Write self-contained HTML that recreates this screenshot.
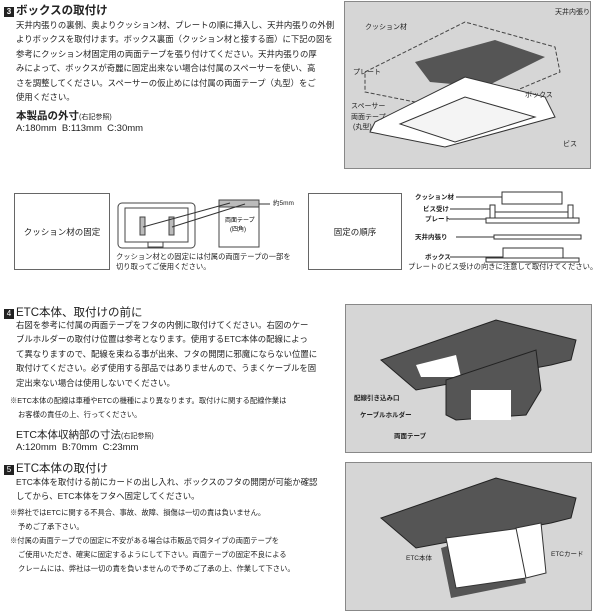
<!DOCTYPE html>
<html><head><meta charset="utf-8"><style>
body{margin:0;width:600px;height:616px;background:#fff;position:relative;overflow:hidden;font-family:"Liberation Sans","Noto Sans CJK JP",sans-serif;color:#222}
.t{position:absolute;white-space:nowrap;font-size:8.4px;line-height:10px}
.h{position:absolute;white-space:nowrap;font-size:11.5px;font-weight:bold;line-height:13px}
.h2{position:absolute;white-space:nowrap;font-size:10.5px;line-height:12px}
.n{position:absolute;white-space:nowrap;font-size:7.3px;line-height:9px}
.num{display:inline-block;width:10px;height:10px;background:#222;color:#fff;font-size:8px;text-align:center;line-height:10px;margin-right:2px;vertical-align:0}
.box{position:absolute;border:1px solid #666;font-size:8.5px;display:flex;align-items:center;justify-content:center}
.panel{position:absolute;background:#d6d6d6;border:1px solid #888}
.s{font-size:7px;font-weight:normal}
</style></head><body>
<div class="h" style="left:4px;top:5px"><span class="num">3</span>ボックスの取付け</div>
<div class="t" style="left:16px;top:20px">天井内張りの裏側、奥よりクッション材、プレートの順に挿入し、天井内張りの外側</div>
<div class="t" style="left:16px;top:34px">よりボックスを取付けます。ボックス裏面（クッション材と接する面）に下記の図を</div>
<div class="t" style="left:16px;top:49px">参考にクッション材固定用の両面テープを張り付けてください。天井内張りの厚</div>
<div class="t" style="left:16px;top:63px">みによって、ボックスが奇麗に固定出来ない場合は付属のスペーサーを使い、高</div>
<div class="t" style="left:16px;top:78px">さを調整してください。スペーサーの仮止めには付属の両面テープ（丸型）をご</div>
<div class="t" style="left:16px;top:92px">使用ください。</div>
<div class="h2" style="left:16px;top:110px;font-weight:bold">本製品の外寸<span class="s">(右記参照)</span></div>
<div class="h2" style="left:16px;top:123px;font-weight:normal;font-size:9.5px">A:180mm&nbsp; B:113mm&nbsp; C:30mm</div>

<div class="panel" style="left:344px;top:1px;width:245px;height:166px">
<svg width="245" height="166" style="position:absolute;left:0;top:0">
<polygon points="20,70 120,20 210,45 215,70 120,110 20,90" fill="none" stroke="#444" stroke-dasharray="4,2"/>
<polygon points="70,60 150,38 200,55 140,85 85,80" fill="#555"/>
<polygon points="30,120 120,75 200,95 210,115 100,145 25,130" fill="#fff" stroke="#333"/>
<polygon points="55,122 120,95 190,115 110,140" fill="#f4f4f4" stroke="#333"/>
<text x="210" y="12" font-size="7" fill="#222" font-family="Liberation Sans,Noto Sans CJK JP">天井内張り</text>
<text x="20" y="27" font-size="7" fill="#222" font-family="Liberation Sans,Noto Sans CJK JP">クッション材</text>
<text x="8" y="72" font-size="7" fill="#222" font-family="Liberation Sans,Noto Sans CJK JP">プレート</text>
<text x="6" y="106" font-size="7" fill="#222" font-family="Liberation Sans,Noto Sans CJK JP">スペーサー</text>
<text x="6" y="117" font-size="7" fill="#222" font-family="Liberation Sans,Noto Sans CJK JP">両面テープ</text>
<text x="8" y="127" font-size="7" fill="#222" font-family="Liberation Sans,Noto Sans CJK JP">(丸型)</text>
<text x="180" y="95" font-size="7" fill="#222" font-family="Liberation Sans,Noto Sans CJK JP">ボックス</text>
<text x="218" y="144" font-size="7" fill="#222" font-family="Liberation Sans,Noto Sans CJK JP">ビス</text>
</svg></div>

<div class="box" style="left:14px;top:193px;width:94px;height:75px">クッション材の固定</div>
<svg width="160" height="60" style="position:absolute;left:115px;top:195px">
<rect x="3" y="8" width="77" height="45" rx="4" fill="none" stroke="#444"/>
<rect x="10" y="13" width="63" height="34" fill="none" stroke="#444"/>
<rect x="25" y="22" width="5" height="18" fill="#bbb" stroke="#444"/>
<rect x="54" y="22" width="5" height="18" fill="#bbb" stroke="#444"/>
<rect x="33" y="47" width="15" height="5" fill="#fff" stroke="#444"/>
<rect x="104" y="5" width="40" height="47" fill="none" stroke="#444"/>
<rect x="104" y="5" width="40" height="7" fill="#bbb" stroke="#444"/>
<line x1="28" y1="32" x2="115" y2="8" stroke="#333"/><line x1="57" y1="32" x2="130" y2="9" stroke="#333"/>
<line x1="144" y1="9" x2="155" y2="9" stroke="#333"/>
<text x="110" y="27" font-size="6" font-family="Liberation Sans,Noto Sans CJK JP">両面テープ</text>
<text x="115" y="36" font-size="6" font-family="Liberation Sans,Noto Sans CJK JP">(四角)</text>
</svg>
<div class="n" style="left:273px;top:199px;font-size:6.5px">約5mm</div>
<div class="n" style="left:116px;top:252px">クッション材との固定には付属の両面テープの一部を</div>
<div class="n" style="left:116px;top:262px">切り取ってご使用ください。</div>

<div class="box" style="left:308px;top:193px;width:92px;height:75px">固定の順序</div>
<svg width="200" height="80" style="position:absolute;left:398px;top:190px">
<g font-size="6.5" font-weight="bold" font-family="Liberation Sans,Noto Sans CJK JP" fill="#222">
<text x="17" y="9">クッション材</text><text x="25" y="21">ビス受け</text><text x="27" y="31">プレート</text><text x="17" y="49">天井内張り</text><text x="27" y="69">ボックス</text></g>
<g stroke="#333" fill="none">
<line x1="58" y1="7" x2="104" y2="7"/><rect x="104" y="2" width="60" height="12"/>
<line x1="52" y1="19" x2="92" y2="19"/><rect x="92" y="15" width="5" height="13"/><rect x="170" y="15" width="5" height="13"/><rect x="97" y="22" width="73" height="6"/>
<line x1="52" y1="29" x2="88" y2="29"/><rect x="88" y="28" width="93" height="5"/>
<line x1="58" y1="47" x2="96" y2="47"/><rect x="96" y="45" width="87" height="4"/>
<line x1="52" y1="67" x2="105" y2="67"/><rect x="105" y="58" width="60" height="10"/><rect x="88" y="68" width="93" height="4"/></g>
</svg>
<div class="n" style="left:408px;top:262px">プレートのビス受けの向きに注意して取付けてください。</div>

<div class="h" style="left:4px;top:307px;font-weight:normal"><span class="num">4</span>ETC本体、取付けの前に</div>
<div class="t" style="left:16px;top:320px">右図を参考に付属の両面テープをフタの内側に取付けてください。右図のケー</div>
<div class="t" style="left:16px;top:334px">ブルホルダーの取付け位置は参考となります。使用するETC本体の配線によっ</div>
<div class="t" style="left:16px;top:349px">て異なりますので、配線を束ねる事が出来、フタの開閉に邪魔にならない位置に</div>
<div class="t" style="left:16px;top:363px">取付けてください。必ず使用する部品ではありませんので、うまくケーブルを固</div>
<div class="t" style="left:16px;top:378px">定出来ない場合は使用しないでください。</div>
<div class="n" style="left:10px;top:396px">※ETC本体の配線は車種やETCの機種により異なります。取付けに関する配線作業は</div>
<div class="n" style="left:18px;top:410px">お客様の責任の上、行ってください。</div>
<div class="h2" style="left:16px;top:429px">ETC本体収納部の寸法<span class="s">(右記参照)</span></div>
<div class="h2" style="left:16px;top:442px;font-size:9.5px">A:120mm&nbsp; B:70mm&nbsp; C:23mm</div>

<div class="panel" style="left:345px;top:304px;width:245px;height:147px">
<svg width="245" height="147" style="position:absolute;left:0;top:0">
<polygon points="35,55 150,15 230,35 225,55 205,60 70,85" fill="#555" stroke="#222"/>
<polygon points="70,60 110,50 115,72 75,72" fill="#fff"/>
<polygon points="100,75 190,45 195,85 180,110 110,115 100,110" fill="#555" stroke="#222"/>
<rect x="125" y="85" width="40" height="30" fill="#fff"/>
<g font-size="6.5" font-weight="bold" font-family="Liberation Sans,Noto Sans CJK JP" fill="#222"><text x="8" y="95">配線引き込み口</text><text x="14" y="112">ケーブルホルダー</text><text x="48" y="133">両面テープ</text></g>
</svg></div>

<div class="h" style="left:4px;top:463px;font-weight:normal"><span class="num">5</span>ETC本体の取付け</div>
<div class="t" style="left:16px;top:477px">ETC本体を取付ける前にカードの出し入れ、ボックスのフタの開閉が可能か確認</div>
<div class="t" style="left:16px;top:491px">してから、ETC本体をフタへ固定してください。</div>
<div class="n" style="left:10px;top:508px">※弊社ではETCに関する不具合、事故、故障、損傷は一切の責は負いません。</div>
<div class="n" style="left:18px;top:522px">予めご了承下さい。</div>
<div class="n" style="left:10px;top:536px">※付属の両面テープでの固定に不安がある場合は市販品で同タイプの両面テープを</div>
<div class="n" style="left:18px;top:550px">ご使用いただき、確実に固定するようにして下さい。両面テープの固定不良による</div>
<div class="n" style="left:18px;top:564px">クレームには、弊社は一切の責を負いませんので予めご了承の上、作業して下さい。</div>

<div class="panel" style="left:345px;top:462px;width:245px;height:147px">
<svg width="245" height="147" style="position:absolute;left:0;top:0">
<polygon points="35,55 150,15 230,35 225,55 205,60 70,85" fill="#555" stroke="#222"/>
<polygon points="95,85 170,62 180,120 105,135" fill="#555"/>
<polygon points="100,75 175,65 180,115 110,125" fill="#fff" stroke="#333"/>
<polygon points="170,65 195,60 200,110 180,115" fill="#fff" stroke="#333"/>
<g font-size="6.5" font-family="Liberation Sans,Noto Sans CJK JP" fill="#222"><text x="60" y="97">ETC本体</text><text x="205" y="93">ETCカード</text></g>
</svg></div>
</body></html>
